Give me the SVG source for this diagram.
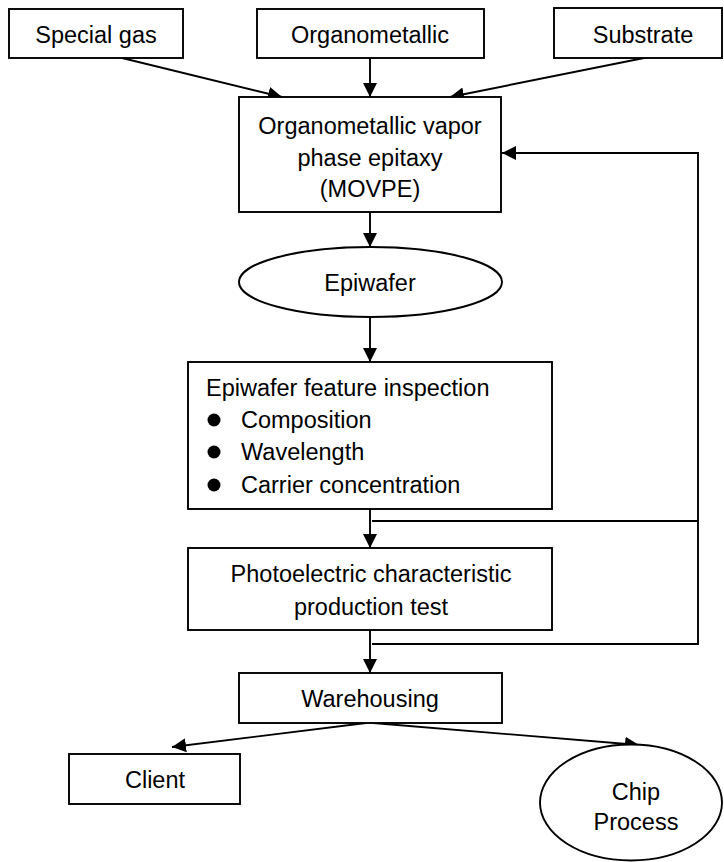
<svg xmlns="http://www.w3.org/2000/svg" width="724" height="862" viewBox="0 0 724 862">
<style>
.box{fill:#fff;stroke:#000;stroke-width:1.9}
.t{font-family:"Liberation Sans",Arial,sans-serif;font-size:23.5px;fill:#000;text-anchor:middle}
.tl{font-family:"Liberation Sans",Arial,sans-serif;font-size:23.5px;fill:#000}
.c{fill:none;stroke:#000;stroke-width:1.9}
</style>
<defs>
<marker id="ah" markerUnits="userSpaceOnUse" markerWidth="16" markerHeight="16" refX="14" refY="7.5" orient="auto">
<path d="M0,0.5 L14,7.5 L0,14.5 z" fill="#000"/>
</marker>
</defs>
<rect width="724" height="862" fill="#fff"/>
<g id="connectors">
<line class="c" x1="118" y1="57" x2="282" y2="97" marker-end="url(#ah)"/>
<line class="c" x1="370" y1="58" x2="370" y2="97" marker-end="url(#ah)"/>
<line class="c" x1="649" y1="57" x2="450" y2="97" marker-end="url(#ah)"/>
<line class="c" x1="370" y1="212" x2="370" y2="247" marker-end="url(#ah)"/>
<line class="c" x1="370" y1="317" x2="370" y2="362" marker-end="url(#ah)"/>
<line class="c" x1="370" y1="509" x2="370" y2="548" marker-end="url(#ah)"/>
<line class="c" x1="372" y1="521" x2="698" y2="521"/>
<line class="c" x1="370" y1="630" x2="370" y2="673" marker-end="url(#ah)"/>
<polyline class="c" points="372,644 698,644 698,153 502,153" marker-end="url(#ah)"/>
<line class="c" x1="366" y1="723" x2="172" y2="747" marker-end="url(#ah)"/>
<line class="c" x1="373" y1="723" x2="639" y2="745" marker-end="url(#ah)"/>
</g>
<g id="special-gas">
<rect class="box" x="9" y="9" width="174" height="49"/>
<text class="t" x="96" y="43">Special gas</text>
</g>
<g id="organometallic">
<rect class="box" x="257" y="9" width="227" height="49"/>
<text class="t" x="370" y="43">Organometallic</text>
</g>
<g id="substrate">
<rect class="box" x="554" y="8" width="168" height="50"/>
<text class="t" x="643" y="43">Substrate</text>
</g>
<g id="movpe">
<rect class="box" x="239" y="97" width="262" height="115"/>
<text class="t" x="370" y="134">Organometallic vapor</text>
<text class="t" x="370" y="165.5">phase epitaxy</text>
<text class="t" x="370" y="197">(MOVPE)</text>
</g>
<g id="epiwafer">
<ellipse class="box" cx="370.5" cy="282" rx="131.5" ry="35"/>
<text class="t" x="370" y="291">Epiwafer</text>
</g>
<g id="inspection">
<rect class="box" x="188" y="362" width="364" height="147"/>
<text class="tl" x="206" y="396">Epiwafer feature inspection</text>
<circle cx="214" cy="420" r="6.5" fill="#000"/>
<text class="tl" x="241" y="428">Composition</text>
<circle cx="214" cy="452" r="6.5" fill="#000"/>
<text class="tl" x="241" y="460">Wavelength</text>
<circle cx="214" cy="485" r="6.5" fill="#000"/>
<text class="tl" x="241" y="493">Carrier concentration</text>
</g>
<g id="photoelectric">
<rect class="box" x="188" y="548" width="364" height="82"/>
<text class="t" x="371" y="582">Photoelectric characteristic</text>
<text class="t" x="371" y="615">production test</text>
</g>
<g id="warehousing">
<rect class="box" x="239" y="673" width="263" height="50"/>
<text class="t" x="370" y="707">Warehousing</text>
</g>
<g id="client">
<rect class="box" x="69" y="754" width="171" height="50"/>
<text class="t" x="155" y="788">Client</text>
</g>
<g id="chip-process">
<ellipse class="box" cx="631" cy="802.5" rx="91" ry="58"/>
<text class="t" x="636" y="800">Chip</text>
<text class="t" x="636" y="830">Process</text>
</g>
</svg>
